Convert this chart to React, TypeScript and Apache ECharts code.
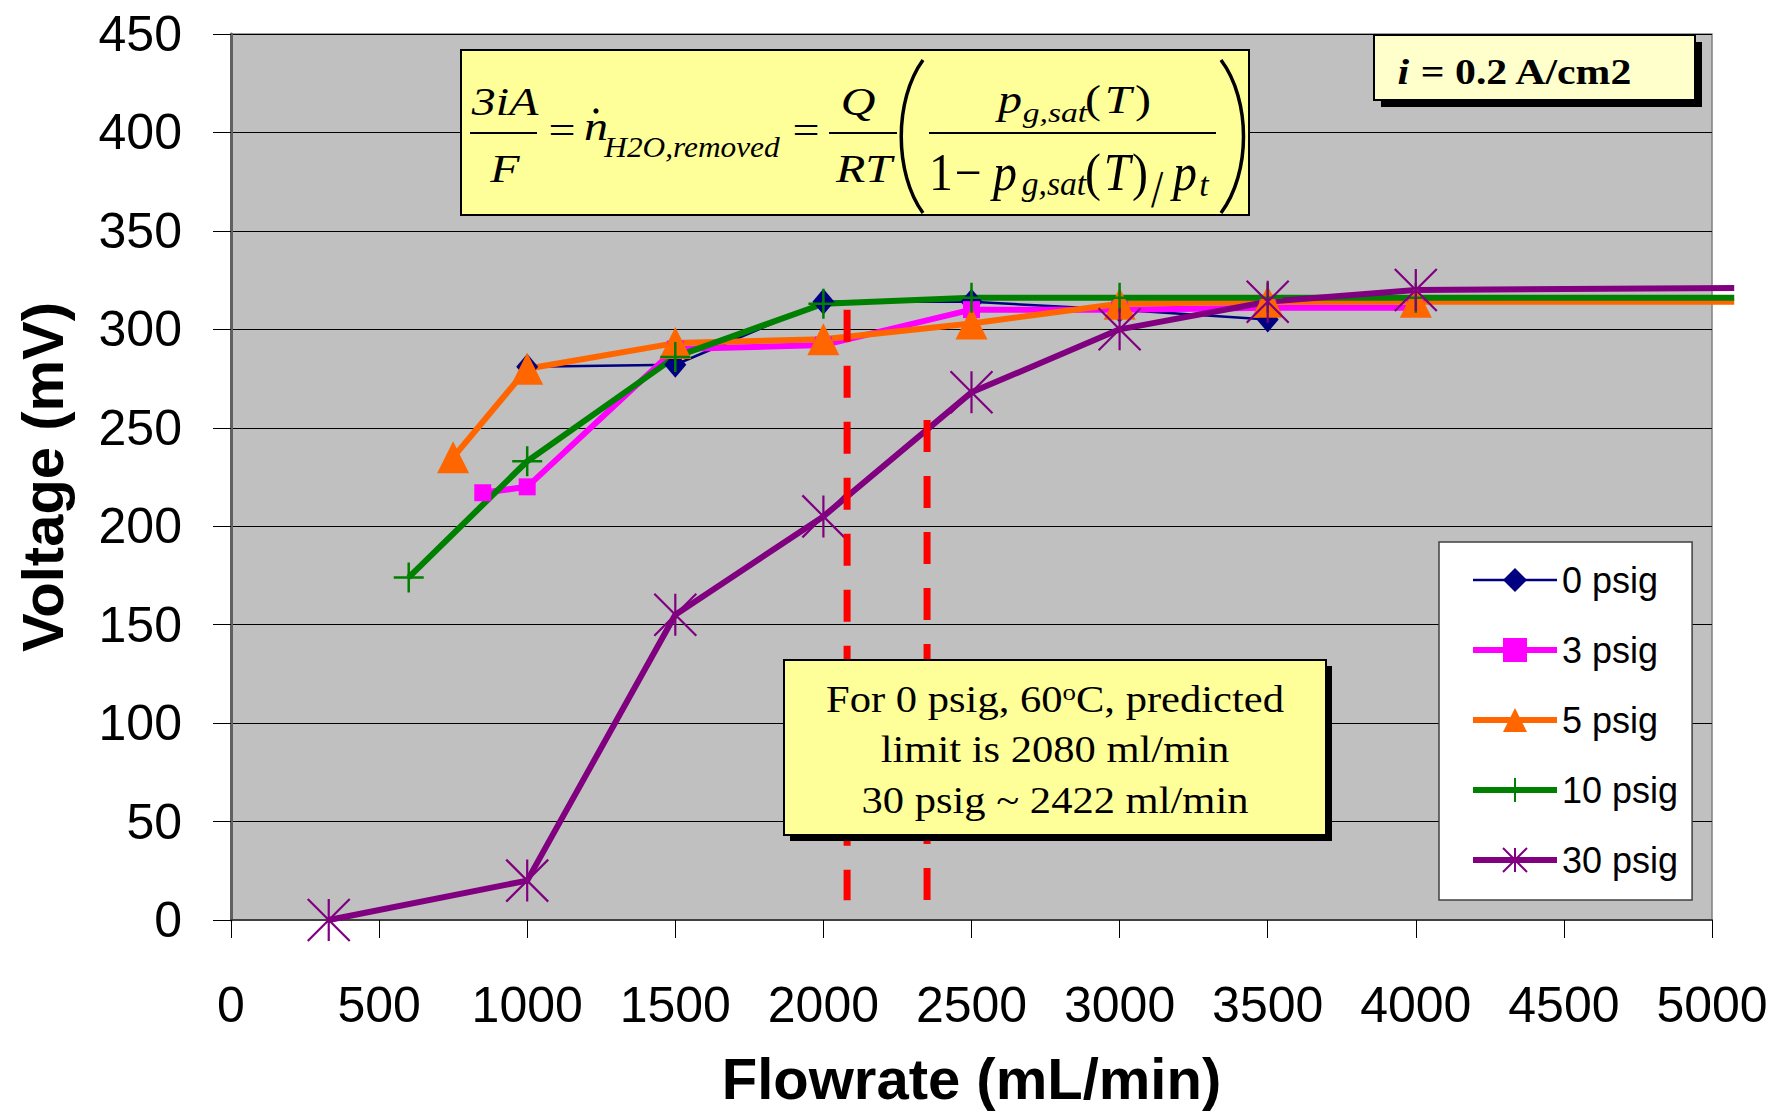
import React, { useEffect, useRef } from "react";
import * as echarts from "echarts";

// ---------------- data ----------------
const seriesNames = ["0 psig", "3 psig", "5 psig", "10 psig", "30 psig"];

const flow0 = [1000, 1500, 2000, 2500, 3000, 3500];
const volt0 = [281, 282, 314, 314, 310, 305];

const flow3 = [850, 1000, 1500, 2000, 2500, 3000, 3500, 4000];
const volt3 = [217, 220, 290, 292, 310, 310, 311, 311];

const flow5 = [750, 1000, 1500, 2000, 2500, 3000, 3500, 4000, 5075];
const volt5 = [235, 280, 293, 295, 303, 313, 314, 314, 314];

const flow10 = [600, 1000, 1500, 2000, 2500, 3000, 3500, 4000, 5075];
const volt10 = [174, 233, 286, 313, 316, 316, 316, 316, 316];

const flow30 = [330, 1000, 1500, 2000, 2500, 3000, 3500, 4000, 5075];
const volt30 = [0, 20, 155, 205, 268, 300, 314, 320, 321];

// predicted limits (red dashed lines)
const limitFlows = [2080, 2350];
const limitTops = [310, 254];
const limitBottom = 10;

const xTicks = { min: 0, max: 5000, interval: 500 };
const yTicks = { min: 0, max: 450, interval: 50 };

const noteLines = ["limit is 2080 ml/min", "30 psig ~ 2422 ml/min"];

// ---------------- layout ----------------
const W = 1785;
const H = 1112;
const G = { left: 231, right: 73, top: 34, bottom: 192 };
const G2_RIGHT = 40; // overflow grid so lines may run past the 5000 edge, same scale
const X2_MAX = (xTicks.max * (W - G.left - G2_RIGHT)) / (W - G.left - G.right);

const SERIF = '"Liberation Serif", "Times New Roman", serif';
const SANS = '"Liberation Sans", Arial, sans-serif';

const pts = (xs: number[], ys: number[]) =>
  xs.map((x, i) => (x > xTicks.max ? { value: [x, ys[i]], symbol: "none" } : [x, ys[i]]));

const tok = (
  text: string,
  cx: number,
  bl: number,
  size: number,
  o: { sx?: number; sy?: number; up?: boolean } = {}
) => {
  const sx = o.sx ?? 1.2;
  const sy = o.sy ?? 1;
  return {
    type: "text",
    x: cx,
    y: bl - 0.34 * size * sy,
    scaleX: sx,
    scaleY: sy,
    z: 110,
    style: {
      text,
      x: 0,
      y: 0,
      fontSize: size,
      fontFamily: SERIF,
      fontStyle: o.up ? "normal" : "italic",
      fill: "#000",
      align: "center",
      textAlign: "center",
      verticalAlign: "middle",
      textVerticalAlign: "middle",
    },
  };
};

const hbar = (x1: number, x2: number, y: number) => ({
  type: "line",
  z: 110,
  shape: { x1, y1: y, x2, y2: y },
  style: { stroke: "#000", lineWidth: 2 },
});

const DEN = { sy: 1.3 };

function buildOption() {
  const eq = [
    {
      type: "rect",
      z: 105,
      shape: { x: 461, y: 50, width: 788, height: 165 },
      style: { fill: "#FFFF99", stroke: "#000", lineWidth: 2 },
    },
    tok("3iA", 505, 115, 40),
    hbar(470, 537, 133),
    tok("F", 505, 182, 40),
    tok("=", 562, 144, 40, { up: true }),
    tok("n", 596, 140, 40),
    { type: "circle", z: 110, shape: { cx: 596, cy: 111, r: 2.6 }, style: { fill: "#000" } },
    tok("H2O,removed", 692, 157, 29, { sx: 1.08 }),
    tok("=", 806, 144, 40, { up: true }),
    tok("Q", 858, 115, 40),
    hbar(829, 897, 133),
    tok("RT", 864, 182, 40),
    {
      type: "bezierCurve",
      z: 110,
      shape: { x1: 923, y1: 60, x2: 923, y2: 213, cpx1: 894, cpy1: 100, cpx2: 894, cpy2: 173 },
      style: { stroke: "#000", lineWidth: 3.5 },
    },
    {
      type: "bezierCurve",
      z: 110,
      shape: { x1: 1221, y1: 60, x2: 1221, y2: 213, cpx1: 1251, cpy1: 100, cpx2: 1251, cpy2: 173 },
      style: { stroke: "#000", lineWidth: 3.5 },
    },
    tok("p", 1010, 113, 40),
    tok("g,sat", 1055, 122, 28),
    tok("(", 1093, 113, 40, { up: true }),
    tok("T", 1118, 113, 40),
    tok(")", 1143, 113, 40, { up: true }),
    hbar(929, 1216, 133),
    tok("1", 941, 190, 40, { ...DEN, up: true }),
    tok("\u2212", 968, 190, 40, { ...DEN, up: true }),
    tok("p", 1005, 190, 40, DEN),
    tok("g,sat", 1054, 195, 28, { sy: 1.2 }),
    tok("(", 1093, 190, 40, { ...DEN, up: true }),
    tok("T", 1117, 190, 40, DEN),
    tok(")", 1140, 190, 40, { ...DEN, up: true }),
    tok("/", 1157, 207, 40, { ...DEN, up: true, sx: 1.1 }),
    tok("p", 1185, 190, 40, DEN),
    tok("t", 1204, 196, 28, { sy: 1.2 }),
  ];

  const ibox = [
    { type: "rect", z: 104, shape: { x: 1381, y: 42, width: 321, height: 65 }, style: { fill: "#000" } },
    {
      type: "rect",
      z: 105,
      shape: { x: 1374, y: 35, width: 321, height: 65 },
      style: { fill: "#FFFFCC", stroke: "#000", lineWidth: 2 },
    },
    {
      type: "text",
      z: 110,
      x: 1515,
      y: 84 - 0.34 * 36,
      scaleX: 1.16,
      style: {
        text: "{i|i} = 0.2 A/cm2",
        x: 0,
        y: 0,
        fontSize: 36,
        fontWeight: "bold",
        fontFamily: SERIF,
        fill: "#000",
        align: "center",
        textAlign: "center",
        verticalAlign: "middle",
        textVerticalAlign: "middle",
        rich: {
          i: { fontSize: 36, fontWeight: "bold", fontStyle: "italic", fontFamily: SERIF, fill: "#000" },
        },
      },
    },
  ];

  const NOTE_SX = 1.12;
  const noteStyle = (text: string, bl: number) => ({
    type: "text",
    z: 110,
    x: 1055,
    y: bl - 0.34 * 38,
    scaleX: NOTE_SX,
    style: {
      text,
      x: 0,
      y: 0,
      fontSize: 38,
      fontFamily: SERIF,
      fill: "#000",
      align: "center",
      textAlign: "center",
      verticalAlign: "middle",
      textVerticalAlign: "middle",
    },
  });

  const note = [
    { type: "rect", z: 104, shape: { x: 790, y: 666, width: 542, height: 175 }, style: { fill: "#000" } },
    {
      type: "rect",
      z: 105,
      shape: { x: 784, y: 660, width: 542, height: 175 },
      style: { fill: "#FFFF99", stroke: "#000", lineWidth: 2 },
    },
    {
      type: "text",
      z: 110,
      x: 1055,
      y: 712 - 0.34 * 38,
      scaleX: NOTE_SX,
      style: {
        text: "{a|For 0 psig, 60}{s|o}{a|C, predicted}",
        x: 0,
        y: 0,
        fontSize: 38,
        fontFamily: SERIF,
        fill: "#000",
        align: "center",
        textAlign: "center",
        verticalAlign: "middle",
        textVerticalAlign: "middle",
        rich: {
          a: { fontSize: 38, lineHeight: 38, fontFamily: SERIF, fill: "#000" },
          s: { fontSize: 24, lineHeight: 19, verticalAlign: "top", fontFamily: SERIF, fill: "#000" },
        },
      },
    },
    noteStyle(noteLines[0], 762),
    noteStyle(noteLines[1], 813),
  ];

  const plus = "path://M0,5L10,5M5,0L5,10";
  const star = "path://M0,0L10,10M10,0L0,10M5,0L5,10";

  const colors = ["#000080", "#FF00FF", "#FF6600", "#008000", "#800080"];
  const widths = [2.5, 6, 6, 6, 6];

  const base = { type: "line", clip: false, z: 3, xAxisIndex: 1, yAxisIndex: 1 };

  return {
    animation: false,
    backgroundColor: "#ffffff",
    grid: [
      {
        ...G,
        show: true,
        backgroundColor: "#C0C0C0",
        borderColor: "#808080",
        borderWidth: 1.5,
      },
      { left: G.left, right: G2_RIGHT, top: G.top, bottom: G.bottom, show: false },
    ],
    xAxis: [
      {
        type: "value",
        gridIndex: 0,
        min: xTicks.min,
        max: xTicks.max,
        interval: xTicks.interval,
        splitLine: { show: false },
        axisLine: { show: true, onZero: false, lineStyle: { color: "#404040", width: 2 } },
        axisTick: { show: true, inside: false, length: 18, lineStyle: { color: "#000", width: 1 } },
        axisLabel: {
          fontSize: 50,
          fontFamily: SANS,
          color: "#000",
          margin: 60,
          formatter: (v: number) => String(v),
        },
        name: "Flowrate (mL/min)",
        nameLocation: "middle",
        nameGap: 129,
        nameTextStyle: { fontSize: 58, fontWeight: "bold", fontFamily: SANS, color: "#000" },
      },
      { type: "value", gridIndex: 1, min: xTicks.min, max: X2_MAX, show: false },
    ],
    yAxis: [
      {
        type: "value",
        gridIndex: 0,
        min: yTicks.min,
        max: yTicks.max,
        interval: yTicks.interval,
        splitLine: { show: true, lineStyle: { color: "#000", width: 1 } },
        axisLine: { show: true, lineStyle: { color: "#606060", width: 3 } },
        axisTick: { show: true, inside: false, length: 18, lineStyle: { color: "#000", width: 1 } },
        axisLabel: { fontSize: 50, fontFamily: SANS, color: "#000", margin: 49 },
        name: "Voltage (mV)",
        nameLocation: "middle",
        nameRotate: 90,
        nameGap: 160,
        nameTextStyle: { fontSize: 58, fontWeight: "bold", fontFamily: SANS, color: "#000" },
      },
      { type: "value", gridIndex: 1, min: yTicks.min, max: yTicks.max, show: false },
    ],
    legend: {
      data: seriesNames.map((n, i) => ({ name: n, lineStyle: { width: widths[i] } })),
      orient: "vertical",
      left: 1439,
      top: 542,
      padding: [20, 14, 22, 31],
      itemWidth: 84,
      itemHeight: 30,
      itemGap: 34,
      selectedMode: false,
      backgroundColor: "#ffffff",
      borderColor: "#404040",
      borderWidth: 1.5,
      textStyle: { fontSize: 36, fontFamily: SANS, color: "#000" },
    },
    series: [
      {
        ...base,
        name: seriesNames[0],
        data: pts(flow0, volt0),
        symbol: "diamond",
        symbolSize: [22, 26],
        lineStyle: { color: colors[0], width: widths[0] },
        itemStyle: { color: colors[0] },
      },
      {
        ...base,
        name: seriesNames[1],
        data: pts(flow3, volt3),
        symbol: "rect",
        symbolSize: 17,
        lineStyle: { color: colors[1], width: widths[1] },
        itemStyle: { color: colors[1] },
      },
      {
        ...base,
        name: seriesNames[2],
        data: pts(flow5, volt5),
        symbol: "triangle",
        symbolSize: 32,
        lineStyle: { color: colors[2], width: widths[2] },
        itemStyle: { color: colors[2] },
      },
      {
        ...base,
        name: seriesNames[3],
        data: pts(flow10, volt10),
        symbol: plus,
        symbolSize: 30,
        lineStyle: { color: colors[3], width: widths[3] },
        itemStyle: { color: colors[3], borderColor: colors[3], borderWidth: 2.5 },
      },
      {
        ...base,
        name: seriesNames[4],
        data: pts(flow30, volt30),
        symbol: star,
        symbolSize: 42,
        lineStyle: { color: colors[4], width: widths[4] },
        itemStyle: { color: colors[4], borderColor: colors[4], borderWidth: 2.2 },
      },
      ...limitFlows.map((f, i) => ({
        type: "line",
        name: "limit" + i,
        z: 4,
        clip: false,
        symbol: "none",
        data: [
          [f, limitTops[i]],
          [f, limitBottom],
        ],
        lineStyle: { color: "#FF0000", width: 7, type: [32, 24], cap: "butt" },
      })),
    ],
    graphic: [...eq, ...ibox, ...note],
  };
}

export default function App() {
  const ref = useRef<HTMLDivElement>(null);
  useEffect(() => {
    if (!ref.current) return;
    const chart = echarts.init(ref.current, null, { renderer: "svg" });
    chart.setOption(buildOption() as any);
    return () => chart.dispose();
  }, []);
  return (
    <div
      ref={ref}
      style={{ position: "fixed", left: 0, top: 0, width: W, height: H, background: "#fff" }}
    />
  );
}
